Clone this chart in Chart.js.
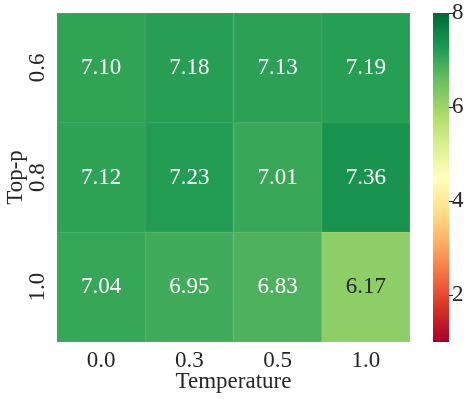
<!DOCTYPE html>
<html>
<head>
<meta charset="utf-8">
<script src="https://cdn.jsdelivr.net/npm/chart.js@4"></script>
<style>
  html, body { margin: 0; padding: 0; background: #fff; }
  #wrap { width: 472px; height: 399px; }
</style>
</head>
<body>
<div id="wrap"><canvas id="myChart"></canvas></div>
<script>
var temperatures = ['0.0', '0.3', '0.5', '1.0'];
var topP = ['0.6', '0.8', '1.0'];
var scores = [
  [7.10, 7.18, 7.13, 7.19],   // top-p 0.6
  [7.12, 7.23, 7.01, 7.36],   // top-p 0.8
  [7.04, 6.95, 6.83, 6.17]    // top-p 1.0
];
var colorTicks = [2, 4, 6, 8];
var vmin = 1, vmax = 8;

// RdYlGn anchors
var rdylgn = ['#a50026', '#d73027', '#f46d43', '#fdae61', '#fee08b', '#ffffbf',
              '#d9ef8b', '#a6d96a', '#66bd63', '#1a9850', '#006837'];

function hexRgb(h) {
  return [parseInt(h.substr(1, 2), 16), parseInt(h.substr(3, 2), 16), parseInt(h.substr(5, 2), 16)];
}
function cmap(v) {
  var t = Math.max(0, Math.min(1, (v - vmin) / (vmax - vmin))) * (rdylgn.length - 1);
  var i = Math.min(Math.floor(t), rdylgn.length - 2);
  var f = t - i;
  var a = hexRgb(rdylgn[i]), b = hexRgb(rdylgn[i + 1]);
  return a.map(function (c, k) { return Math.round(c + (b[k] - c) * f); });
}
function cssColor(rgb) { return 'rgb(' + rgb.join(',') + ')'; }
function lighter(rgb) {
  return cssColor(rgb.map(function (c) { return Math.round(c + (255 - c) * 0.08); }));
}
function textColor(rgb) {
  // same idea as seaborn: dark text on light cells
  var lum = rgb.map(function (c) {
    c = c / 255;
    return c <= 0.03928 ? c / 12.92 : Math.pow((c + 0.055) / 1.055, 2.4);
  });
  var l = 0.2126 * lum[0] + 0.7152 * lum[1] + 0.0722 * lum[2];
  return l > 0.408 ? '#262626' : '#ffffff';
}

var fontFam = '"Liberation Serif", "Times New Roman", serif';
var ink = '#262626';

// stacked from bottom row (1.0) to top row (0.6)
var datasets = [];
for (var r = topP.length - 1; r >= 0; r--) {
  datasets.push({
    label: topP[r],
    values: scores[r],
    data: scores[r].map(function () { return 1; }),
    backgroundColor: scores[r].map(function (v) { return cssColor(cmap(v)); }),
    borderColor: scores[r].map(function (v) { return lighter(cmap(v)); }),
    borderWidth: 1,
    borderSkipped: false,
    barPercentage: 1,
    categoryPercentage: 1
  });
}

var cellLabels = {
  id: 'cellLabels',
  afterDatasetsDraw: function (chart) {
    var ctx = chart.ctx;
    ctx.save();
    ctx.font = '23px ' + fontFam;
    ctx.textAlign = 'center';
    ctx.textBaseline = 'middle';
    chart.data.datasets.forEach(function (ds, di) {
      chart.getDatasetMeta(di).data.forEach(function (bar, j) {
        var v = ds.values[j];
        var p = bar.getCenterPoint();
        ctx.fillStyle = textColor(cmap(v));
        ctx.fillText(v.toFixed(2), p.x, p.y);
      });
    });
    ctx.restore();
  }
};

var colorBar = {
  id: 'colorBar',
  afterDraw: function (chart) {
    var s = chart.scales.cb;
    var ctx = chart.ctx;
    var x0 = s.left + 23, w = 16;
    var yTop = s.getPixelForValue(vmax), yBot = s.getPixelForValue(vmin);
    var g = ctx.createLinearGradient(0, yBot, 0, yTop);
    for (var k = 0; k <= 40; k++) {
      var v = vmin + (vmax - vmin) * k / 40;
      g.addColorStop(k / 40, cssColor(cmap(v)));
    }
    ctx.save();
    ctx.fillStyle = g;
    ctx.fillRect(x0, yTop, w, yBot - yTop);
    ctx.strokeStyle = ink;
    ctx.lineWidth = 1;
    colorTicks.forEach(function (t) {
      var y = Math.round(s.getPixelForValue(t)) + 0.5;
      ctx.beginPath();
      ctx.moveTo(x0 + w, y);
      ctx.lineTo(x0 + w + 4, y);
      ctx.stroke();
    });
    ctx.restore();
  }
};

function fixBox(size, key) {
  return function (s) {
    s[key] = size;
    s.paddingTop = 0; s.paddingBottom = 0; s.paddingLeft = 0; s.paddingRight = 0;
  };
}

var ctx = document.getElementById('myChart');
new Chart(ctx, {
  type: 'bar',
  data: { labels: temperatures, datasets: datasets },
  plugins: [cellLabels, colorBar],
  options: {
    responsive: true,
    maintainAspectRatio: false,
    animation: false,
    layout: { padding: { top: 13, left: 0, right: 0, bottom: 0 } },
    plugins: { legend: { display: false }, tooltip: { enabled: false } },
    scales: {
      x: {
        stacked: true,
        grid: { display: false, drawTicks: false },
        border: { display: false },
        ticks: { color: ink, font: { family: fontFam, size: 23 }, padding: 5 },
        title: { display: true, text: 'Temperature', color: ink,
                 font: { family: fontFam, size: 23 }, padding: { top: 0, bottom: 3 } },
        afterFit: fixBox(57, 'height')
      },
      y: {
        stacked: true,
        min: 0, max: 3,
        grid: { display: false, drawTicks: false },
        border: { display: false },
        afterBuildTicks: function (s) {
          s.ticks = [0.5, 1.5, 2.5].map(function (v) { return { value: v }; });
        },
        ticks: {
          color: ink, font: { family: fontFam, size: 23 },
          minRotation: 90, maxRotation: 90, crossAlign: 'center', padding: 5,
          callback: function (v) { return topP[topP.length - 1 - Math.floor(v)]; }
        },
        title: { display: true, text: 'Top-p', color: ink,
                 font: { family: fontFam, size: 23 }, padding: { top: 2, bottom: 0 } },
        afterFit: fixBox(57, 'width')
      },
      cb: {
        type: 'linear',
        position: 'right',
        min: vmin, max: vmax,
        grid: { display: false, drawTicks: false },
        border: { display: false },
        afterBuildTicks: function (s) {
          s.ticks = colorTicks.map(function (v) { return { value: v }; });
        },
        ticks: { color: ink, font: { family: fontFam, size: 23 }, padding: 42 },
        afterFit: fixBox(62, 'width')
      }
    }
  }
});
</script>
</body>
</html>
